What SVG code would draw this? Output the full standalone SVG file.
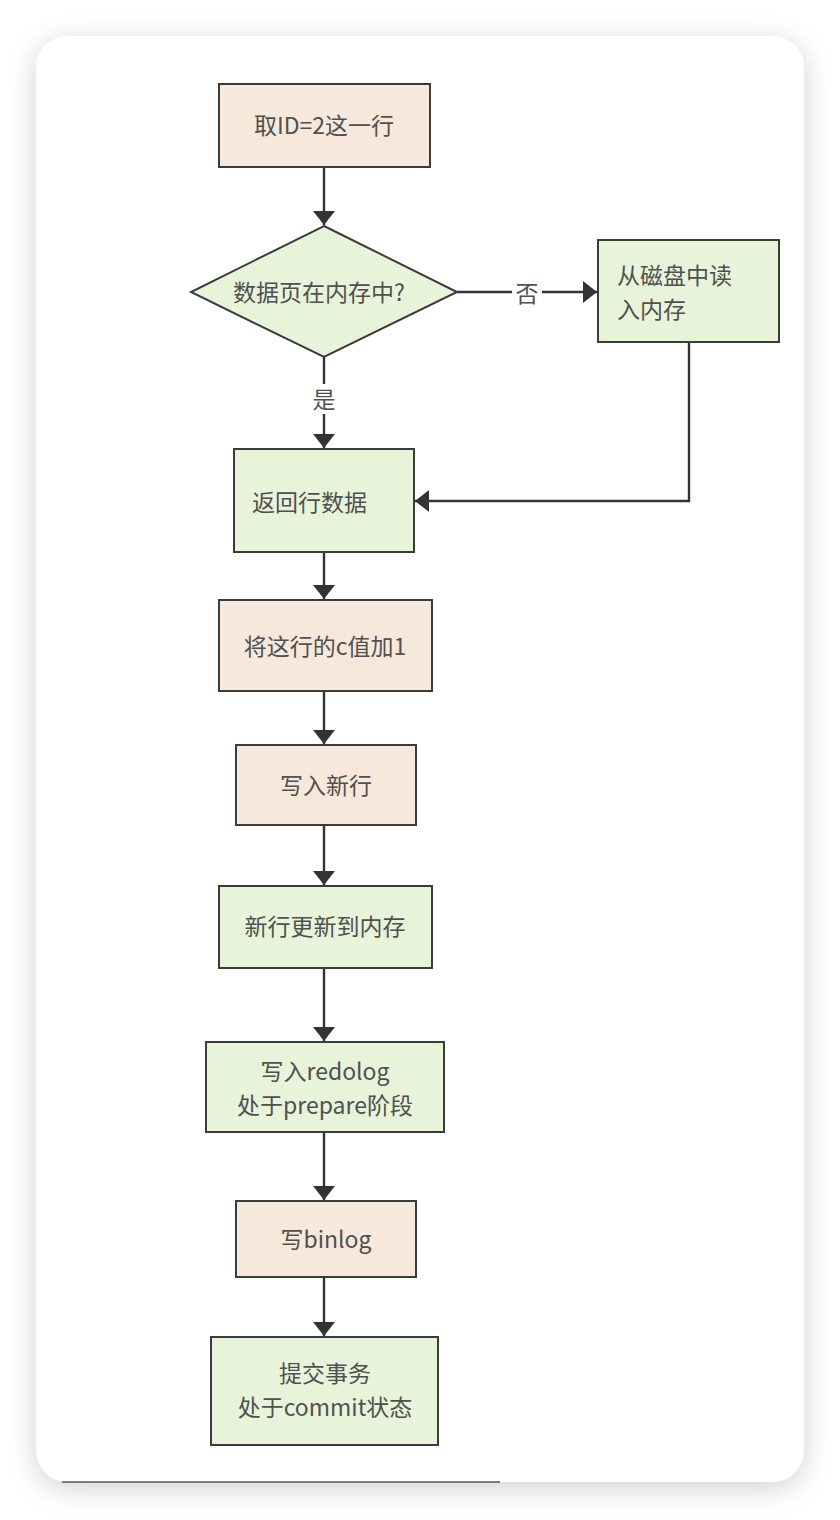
<svg xmlns="http://www.w3.org/2000/svg" width="840" height="1520" viewBox="0 0 840 1520">
  <style>
    .peach { fill: #f6e9dc; stroke: #3b3b3b; stroke-width: 2; }
    .green { fill: #e7f4da; stroke: #3b3b3b; stroke-width: 2; }
    .lbl { font-family: "Microsoft YaHei", "Noto Sans CJK SC", "Noto Sans", sans-serif; font-size: 23px; fill: #505050; }
    .mid { text-anchor: middle; }
    .edge { fill: none; stroke: #333; stroke-width: 2.4; }
  </style>
  <defs>
    <marker id="arr" viewBox="0 0 14 22" refX="14" refY="11" markerWidth="14" markerHeight="22" markerUnits="userSpaceOnUse" orient="auto">
      <path d="M0,0 L14,11 L0,22 Z" fill="#333"/>
    </marker>
    <filter id="shadow" x="-10%" y="-10%" width="120%" height="120%">
      <feDropShadow dx="0" dy="6" stdDeviation="14" flood-color="#000" flood-opacity="0.18"/>
    </filter>
  </defs>

  <rect x="0" y="0" width="840" height="1520" fill="#ffffff"/>
  <rect id="card" x="36" y="36" width="768" height="1446" rx="32" fill="#ffffff" filter="url(#shadow)"/>
  <line x1="62" y1="1482" x2="500" y2="1482" stroke="#555" stroke-width="1.5"/>

  <g id="connectors">
    <line class="edge" x1="324" y1="167" x2="324" y2="225" marker-end="url(#arr)"/>
    <line class="edge" x1="457" y1="292" x2="597" y2="292" marker-end="url(#arr)"/>
    <rect x="512" y="278" width="30" height="28" fill="#ffffff"/>
    <text class="lbl mid" x="527" y="302">否</text>
    <polyline class="edge" points="689,342 689,501 415,501" marker-end="url(#arr)"/>
    <line class="edge" x1="324" y1="357" x2="324" y2="448" marker-end="url(#arr)"/>
    <rect x="309" y="384" width="30" height="30" fill="#ffffff"/>
    <text class="lbl mid" x="324" y="408">是</text>
    <line class="edge" x1="324" y1="552" x2="324" y2="599" marker-end="url(#arr)"/>
    <line class="edge" x1="324" y1="691" x2="324" y2="744" marker-end="url(#arr)"/>
    <line class="edge" x1="324" y1="825" x2="324" y2="885" marker-end="url(#arr)"/>
    <line class="edge" x1="324" y1="968" x2="324" y2="1041" marker-end="url(#arr)"/>
    <line class="edge" x1="324" y1="1132" x2="324" y2="1200" marker-end="url(#arr)"/>
    <line class="edge" x1="324" y1="1277" x2="324" y2="1336" marker-end="url(#arr)"/>
  </g>

  <g id="n1">
    <rect class="peach" x="219" y="84" width="211" height="83"/>
    <text class="lbl mid" x="324" y="134">取ID=2这一行</text>
  </g>
  <g id="n2">
    <polygon class="green" points="324,226 457,292 324,357 191,292"/>
    <text class="lbl mid" x="319" y="301">数据页在内存中?</text>
  </g>
  <g id="n3">
    <rect class="green" x="598" y="240" width="181" height="102"/>
    <text class="lbl" x="617" y="284">从磁盘中读</text>
    <text class="lbl" x="617" y="318">入内存</text>
  </g>
  <g id="n4">
    <rect class="green" x="234" y="449" width="180" height="103"/>
    <text class="lbl" x="252" y="511">返回行数据</text>
  </g>
  <g id="n5">
    <rect class="peach" x="219" y="600" width="213" height="91"/>
    <text class="lbl mid" x="325" y="655">将这行的c值加1</text>
  </g>
  <g id="n6">
    <rect class="peach" x="236" y="745" width="180" height="80"/>
    <text class="lbl mid" x="326" y="794">写入新行</text>
  </g>
  <g id="n7">
    <rect class="green" x="219" y="886" width="213" height="82"/>
    <text class="lbl mid" x="325" y="935">新行更新到内存</text>
  </g>
  <g id="n8">
    <rect class="green" x="206" y="1042" width="238" height="90"/>
    <text class="lbl mid" x="325" y="1080">写入redolog</text>
    <text class="lbl mid" x="325" y="1114">处于prepare阶段</text>
  </g>
  <g id="n9">
    <rect class="peach" x="236" y="1201" width="180" height="76"/>
    <text class="lbl mid" x="326" y="1248">写binlog</text>
  </g>
  <g id="n10">
    <rect class="green" x="211" y="1337" width="227" height="108"/>
    <text class="lbl mid" x="325" y="1382">提交事务</text>
    <text class="lbl mid" x="325" y="1416">处于commit状态</text>
  </g>
</svg>
